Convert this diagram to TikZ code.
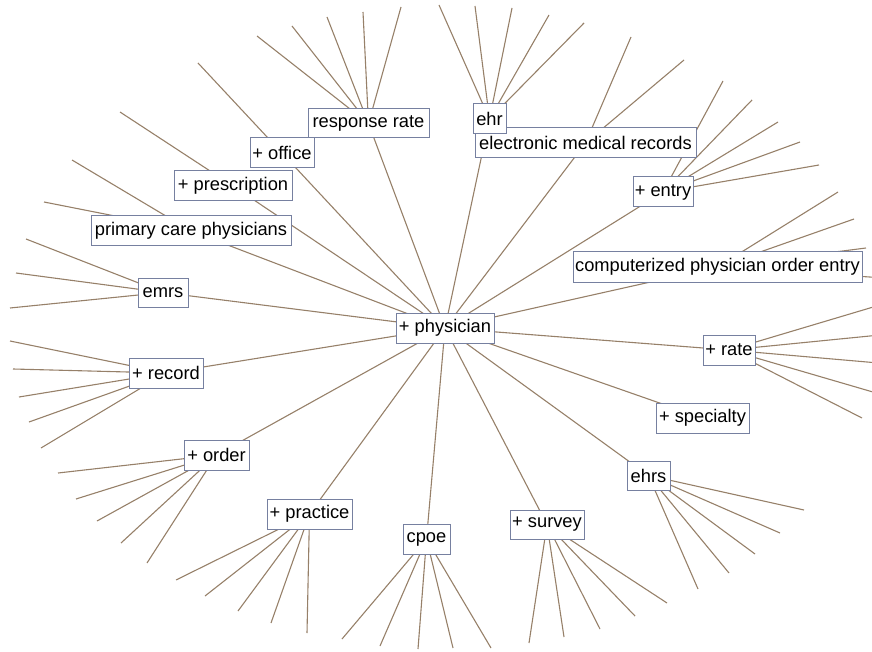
\documentclass[tikz,border=0pt]{standalone}
\usepackage{fontspec}
\setmainfont{Liberation Sans}
\usetikzlibrary{backgrounds}
\definecolor{boxc}{RGB}{118,128,160}
\definecolor{linec}{RGB}{150,128,105}
\begin{document}
\begin{tikzpicture}[x=1pt,y=-1pt,
  term/.style={draw=boxc, fill=white, line width=1pt, inner sep=0pt,
    font=\fontsize{18.3}{21}\selectfont, text=black},
  link/.style={draw=linec, line width=1.1pt}]
\useasboundingbox (0,0) rectangle (872,652);
\clip (0,0) rectangle (872,652);
% nodes
\node[term, minimum width=98pt, minimum height=30pt] (phys) at (445,328) {+ physician};
\node[term, minimum width=121pt, minimum height=29pt] (rr) at (368.5,123.5) {response rate};
\node[term, minimum width=64pt, minimum height=30pt] (office) at (282,153) {+ office};
\node[term, minimum width=118pt, minimum height=30pt] (presc) at (233,186) {+ prescription};
\node[term, minimum width=200pt, minimum height=30pt] (pcp) at (191,231) {primary care physicians};
\node[term, minimum width=50pt, minimum height=29pt] (emrs) at (163,292.5) {emrs};
\node[term, minimum width=74pt, minimum height=30pt] (record) at (166,373) {+ record};
\node[term, minimum width=65pt, minimum height=30pt] (order) at (216.5,455) {+ order};
\node[term, minimum width=85pt, minimum height=30pt] (practice) at (309.5,514) {+ practice};
\node[term, minimum width=47pt, minimum height=30pt] (cpoe) at (426.5,539) {cpoe};
\node[term, minimum width=74pt, minimum height=29pt] (survey) at (547,524.5) {+ survey};
\node[term, minimum width=43pt, minimum height=29pt] (ehrs) at (648.5,475.5) {ehrs};
\node[term, minimum width=93pt, minimum height=30pt] (spec) at (702.5,418) {+ specialty};
\node[term, minimum width=52pt, minimum height=30pt] (rate) at (729,350) {+ rate};
\node[term, minimum width=289pt, minimum height=30pt] (cpoel) at (717.5,267) {computerized physician order entry};
\node[term, minimum width=60pt, minimum height=30pt] (entry) at (663,192) {+ entry};
\node[term, minimum width=221pt, minimum height=30pt] (emr) at (585.5,143) {electronic medical records};
\node[term, minimum width=33pt, minimum height=30pt] (ehr) at (489.5,119) {ehr};
% connectors
\begin{scope}[on background layer]
\foreach \n in {rr,office,presc,pcp,emrs,record,order,practice,cpoe,survey,ehrs,spec,rate,cpoel,entry,emr,ehr}
  \draw[link] (phys.center) -- (\n.center);
\foreach \n/\pts in {
  rr/{257/36,292/26,327/17,363/12,401/7},
  office/{198/63},
  presc/{120/112},
  pcp/{72/160,44/202},
  emrs/{26/239,16/273,10/308},
  record/{10/341,13/369,19/397,29/422,41/448},
  order/{58/473,76/499,97/521,121/543,147/563},
  practice/{176/580,205/596,238/611,271/623,307/633},
  cpoe/{342/639,380/646,418/649,453/648,491/648},
  survey/{529/643,564/637,600/629,635/616,667/603},
  ehrs/{698/589,729/573,755/554,780/533,804/510},
  rate/{890/302,890/334,890/364,890/397,862/418},
  cpoel/{838/192,854/219,866/248,900/279},
  entry/{723/81,752/100,778/122,800/142,819/165},
  emr/{631/37,684/60},
  ehr/{439/5,475/6,512/8,549/15,584/23}}
{
  \foreach \x/\y [count=\i] in \pts {
    \coordinate (\n-leaf-\i) at (\x,\y);
    \draw[link] (\n.center) -- (\n-leaf-\i);
  }
}
\end{scope}
\end{tikzpicture}
\end{document}
